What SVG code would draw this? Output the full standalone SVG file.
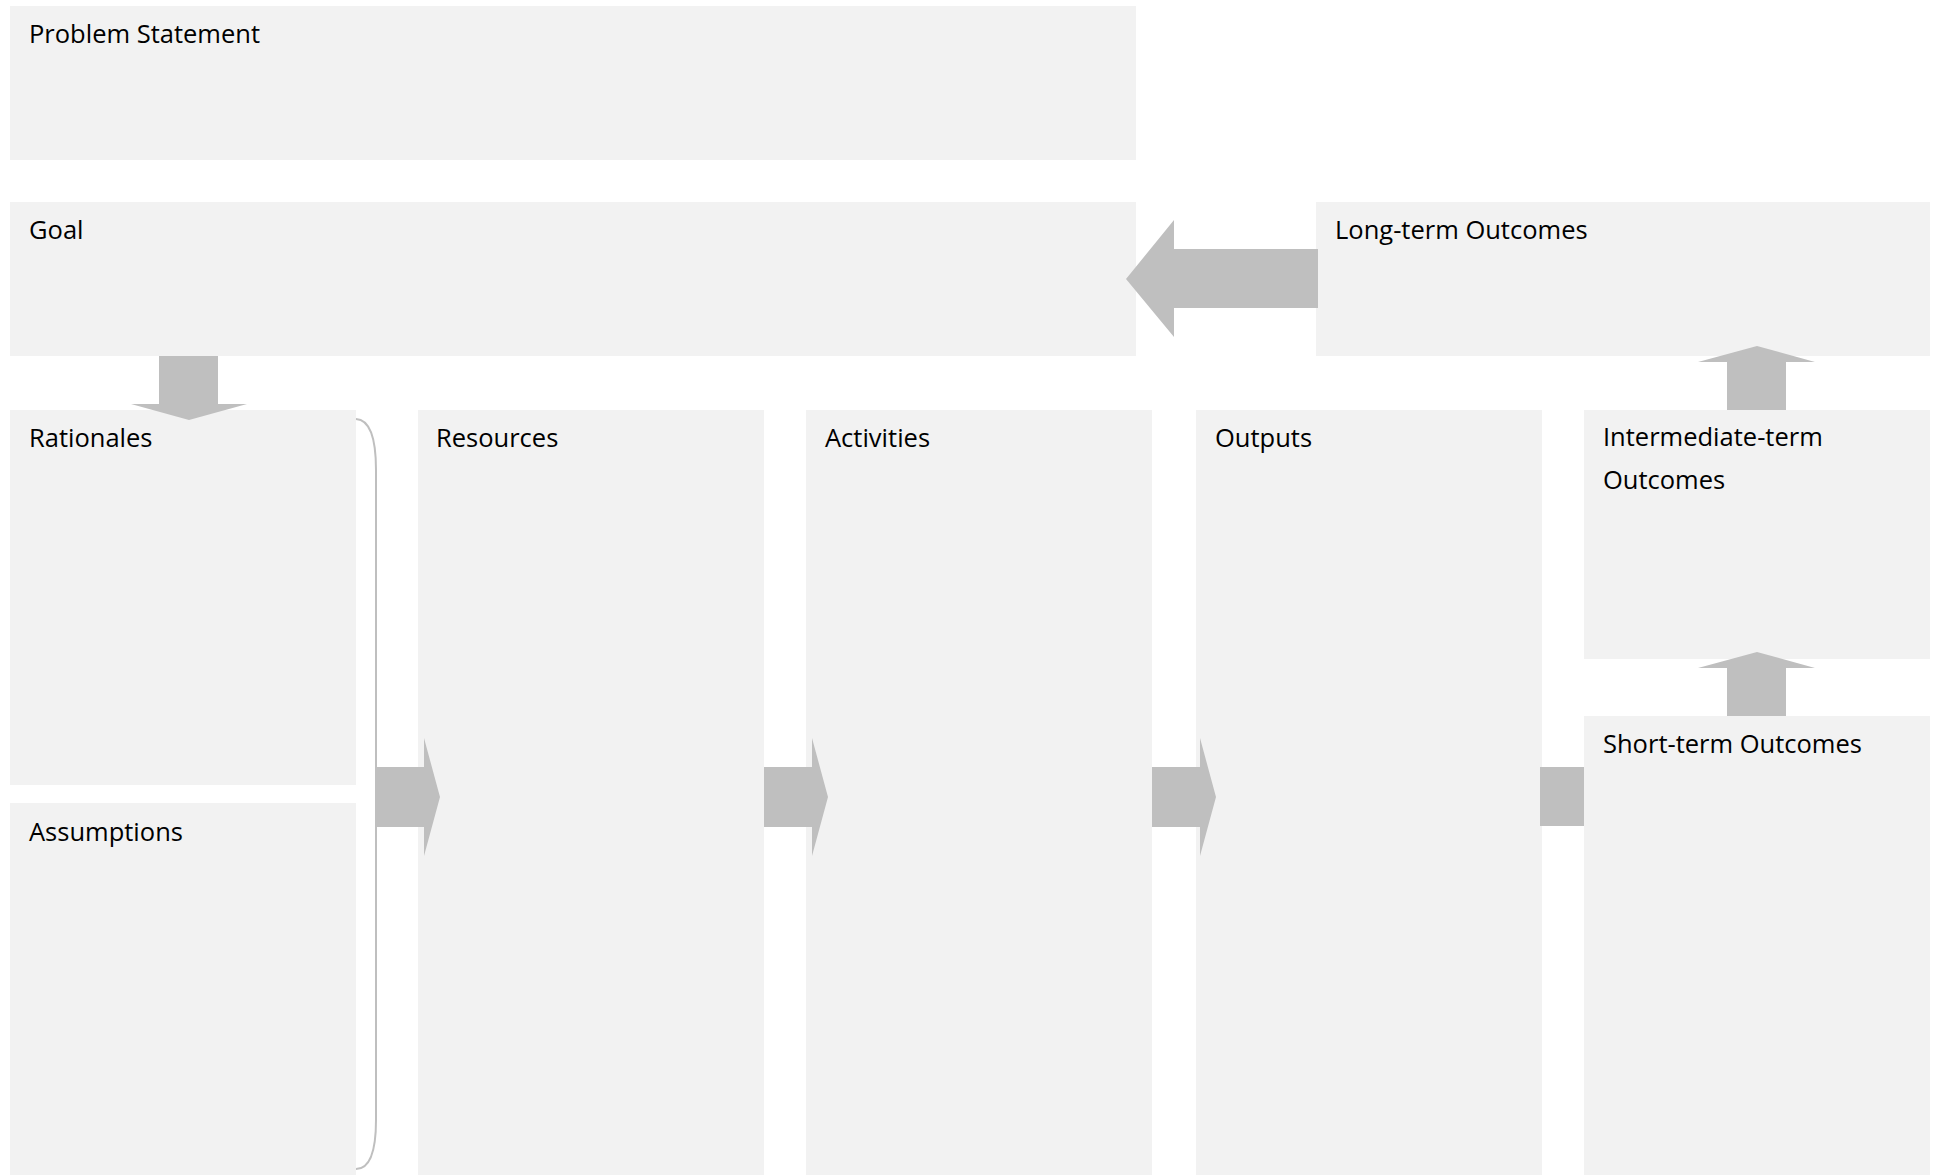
<svg xmlns="http://www.w3.org/2000/svg" width="1939" height="1175" viewBox="0 0 1939 1175">
<style>
.box{fill:#f2f2f2}
.arr{fill:#bfbfbf}
.lbl{font-family:"Open Sans","Liberation Sans",sans-serif;font-size:25.5px;fill:#000}
.brace{fill:none;stroke:#bfbfbf;stroke-width:2}
</style>
<rect width="1939" height="1175" fill="#fff"/>
<g id="problem"><rect class="box" x="10" y="6" width="1126" height="154"/><text class="lbl" x="29" y="43">Problem Statement</text></g>
<g id="goal"><rect class="box" x="10" y="202" width="1126" height="154"/><text class="lbl" x="29" y="239">Goal</text></g>
<g id="longterm"><rect class="box" x="1316" y="202" width="614" height="154"/><text class="lbl" x="1335" y="239">Long-term Outcomes</text></g>
<g id="rationales"><rect class="box" x="10" y="410" width="346" height="375"/><text class="lbl" x="29" y="447">Rationales</text></g>
<g id="assumptions"><rect class="box" x="10" y="803" width="346" height="372"/><text class="lbl" x="29" y="841">Assumptions</text></g>
<g id="resources"><rect class="box" x="418" y="410" width="346" height="765"/><text class="lbl" x="436" y="447">Resources</text></g>
<g id="activities"><rect class="box" x="806" y="410" width="346" height="765"/><text class="lbl" x="825" y="447">Activities</text></g>
<g id="outputs"><rect class="box" x="1196" y="410" width="346" height="765"/><text class="lbl" x="1215" y="447">Outputs</text></g>
<g id="intermediate"><rect class="box" x="1584" y="410" width="346" height="249"/><text class="lbl" x="1603" y="446">Intermediate-term</text><text class="lbl" x="1603" y="489">Outcomes</text></g>
<g id="shortterm"><rect class="box" x="1584" y="716" width="346" height="459"/><text class="lbl" x="1603" y="753">Short-term Outcomes</text></g>
<g id="connectors">
<polygon class="arr" points="1318,249 1174,249 1174,220 1126,279 1174,337 1174,308 1318,308"/>
<polygon class="arr" points="159,356 218,356 218,404 247,404 189,420 131,404 159,404"/>
<path class="brace" d="M356,419 Q376,420 376,470 L376,1120 Q376,1169 356,1169"/>
<polygon class="arr" points="377,767 424,767 424,738 440,797 424,856 424,827 377,827"/>
<polygon class="arr" points="764,767 812,767 812,738 828,797 812,856 812,827 764,827"/>
<polygon class="arr" points="1152,767 1200,767 1200,738 1216,797 1200,856 1200,827 1152,827"/>
<rect class="arr" x="1540" y="767" width="44" height="59"/>
<polygon class="arr" points="1727,716 1786,716 1786,668 1815,668 1757,652 1698,668 1727,668"/>
<polygon class="arr" points="1727,410 1786,410 1786,362 1815,362 1757,346 1698,362 1727,362"/>
</g>
</svg>
